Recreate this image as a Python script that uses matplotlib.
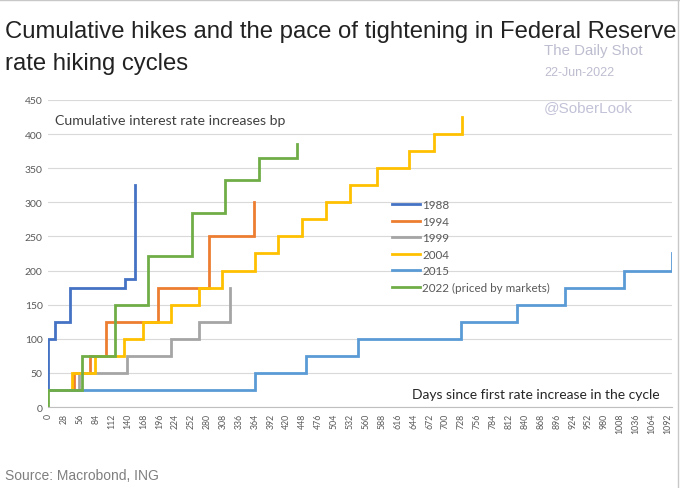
import matplotlib
matplotlib.use("Agg")
import matplotlib.pyplot as plt
from matplotlib.lines import Line2D

# days since first hike / cumulative hikes in bp
days_1988 = [0, 0, 12, 38, 135, 152]
bp_1988 = [25, 100, 125, 175, 187.5, 325]
days_1994 = [0, 46, 73, 102, 193, 284, 362]
bp_1994 = [25, 50, 75, 125, 175, 250, 300]
days_1999 = [0, 55, 139, 217, 265, 321]
bp_1999 = [25, 50, 75, 100, 125, 175]
days_2004 = [0, 41, 83, 133, 167, 217, 265, 307, 365, 405, 447, 489, 531, 580, 636, 679, 729]
bp_2004 = [25, 50, 75, 100, 125, 150, 175, 200, 225, 250, 275, 300, 325, 350, 375, 400, 425]
days_2015 = [0, 364, 455, 546, 728, 826, 910, 1015, 1099]
bp_2015 = [25, 50, 75, 100, 125, 150, 175, 200, 225]
days_2022 = [0, 0, 59, 117, 175, 254, 312, 371, 439]
bp_2022 = [0, 25, 75, 150, 222, 285, 332, 365, 385]

labels = ["1988", "1994", "1999", "2004", "2015", "2022 (priced by markets)"]
colors = ["#4472C4", "#ED7D31", "#A5A5A5", "#FFC000", "#5B9BD5", "#70AD47"]
xticks = list(range(0, 1093, 28))
yticks = list(range(0, 451, 50))

series = [(days_1988, bp_1988), (days_1994, bp_1994), (days_1999, bp_1999),
          (days_2004, bp_2004), (days_2015, bp_2015), (days_2022, bp_2022)]

fig = plt.figure(figsize=(6.8, 4.89), dpi=100)
ax = fig.add_axes([0.071, 0.1656, 0.917, 0.628])

for (d, v), lab, c in zip(series, labels, colors):
    ax.step(d, v, where="post", color=c, lw=2.0, label=lab, solid_joinstyle="miter")

ax.set_xlim(0, 1099)
ax.set_ylim(0, 450)
ax.set_yticks(yticks)
ax.set_xticks(xticks)
ax.set_xticklabels([str(t) for t in xticks], rotation=90, fontsize=6.3,
                   color="#595959", family="Lato")
ax.set_yticklabels([str(t) for t in yticks], fontsize=7.5, color="#595959", family="Lato")
ax.tick_params(length=0, pad=4)
ax.grid(axis="y", color="#D9D9D9", lw=0.8)
ax.set_axisbelow(True)
for s in ["top", "right", "left"]:
    ax.spines[s].set_visible(False)
ax.spines["bottom"].set_color("#BFBFBF")
ax.spines["bottom"].set_linewidth(0.8)

ax.text(0.011, 0.935, "Cumulative interest rate increases bp", transform=ax.transAxes,
        fontsize=10.2, color="#404040", family="Lato", va="center", ha="left")
ax.text(0.981, 0.042, "Days since first rate increase in the cycle", transform=ax.transAxes,
        fontsize=10.0, color="#262626", family="Lato", va="center", ha="right")

leg = ax.legend(loc="upper left", bbox_to_anchor=(0.534, 0.71), frameon=False,
                handlelength=2.4, handletextpad=0.2, labelspacing=0.47,
                prop={"family": "Lato", "size": 8.4})
for t in leg.get_texts():
    t.set_color("#595959")

# titles and watermarks
fig.text(0.007, 0.935, "Cumulative hikes and the pace of tightening in Federal Reserve",
         fontsize=17.2, color="#222222", family="Liberation Sans", va="center", ha="left")
fig.text(0.007, 0.870, "rate hiking cycles",
         fontsize=17.2, color="#222222", family="Liberation Sans", va="center", ha="left")
fig.text(0.800, 0.895, "The Daily Shot", fontsize=10.8, color="#BDBDD0",
         family="Liberation Sans", va="center", ha="left")
fig.text(0.800, 0.850, "22-Jun-2022", fontsize=9, color="#BDBDD0",
         family="Liberation Sans", va="center", ha="left")
fig.text(0.800, 0.779, "@SoberLook", fontsize=11, color="#C2C2D8",
         family="Liberation Sans", va="center", ha="left")
fig.text(0.007, 0.027, "Source: Macrobond, ING", fontsize=10, color="#7F7F7F",
         family="Liberation Sans", va="center", ha="left")

# screenshot frame on top and right
fig.add_artist(Line2D([0, 1], [0.998, 0.998], transform=fig.transFigure, color="#C8C8C8", lw=1))
fig.add_artist(Line2D([0.997, 0.997], [0, 1], transform=fig.transFigure, color="#C8C8C8", lw=1))

fig.savefig("out.png", dpi=100)
